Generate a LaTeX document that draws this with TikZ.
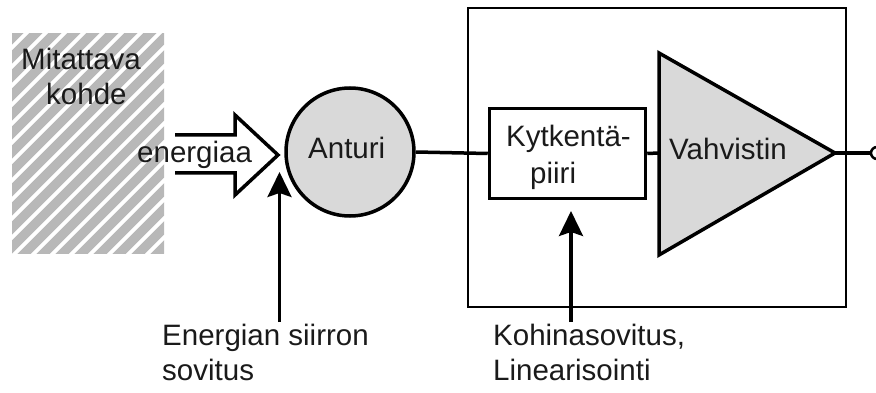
\documentclass[tikz,border=0pt]{standalone}
\usepackage{fontspec}
\setmainfont{Liberation Sans}
\usetikzlibrary{arrows.meta}
\definecolor{fillgray}{HTML}{D9D9D9}
\definecolor{hatchgray}{HTML}{B8B8B8}
\definecolor{txt}{HTML}{1A1A1A}
\tikzset{
  lbl/.style={anchor=base west, inner sep=0pt, text=txt, font=\fontsize{29.5}{35}\selectfont},
  thickline/.style={line width=3.5pt, draw=black},
  uparrow/.style={line width=3.2pt, -{Stealth[length=25pt, width=24pt, inset=4pt]}},
}
\begin{document}
\begin{tikzpicture}[x=1pt,y=-1pt]
\useasboundingbox (0,0) rectangle (876,393);
% hatched object
\begin{scope}
  \clip (12,34) rectangle (164,253);
  \foreach \k in {-260,-241,...,200} {
    \draw[hatchgray, line width=9.5pt] (12+\k,260) -- (12+\k+240,20);
  }
\end{scope}
\node[lbl] (m1) at (21,70) {Mitattava};
\node[lbl] (m2) at (46,105) {kohde};
% hollow arrow
\draw[line width=3.5pt, line join=miter] (175,135) -- (235,135) -- (235,115) -- (278,155) -- (235,195) -- (235,173) -- (175,173);
\node[lbl] (en) at (137,163) {energiaa};
% big enclosing rectangle
\node[draw, line width=2.2pt, minimum width=378pt, minimum height=299pt, inner sep=0pt] (encl) at (657,157.5) {};
% sensor
\node[circle, draw, thickline, fill=fillgray, minimum size=128pt, inner sep=0pt] (anturi) at (350,152) {};
\node[lbl] (antt) at (308,159) {Anturi};
% coupling box
\node[draw, thickline, minimum width=156pt, minimum height=90pt, inner sep=0pt] (kbox) at (567.5,153.5) {};
\node[lbl] (k1) at (506,147) {Kytkentä-};
\node[lbl] (k2) at (530,183) {piiri};
% amplifier
\coordinate (ampin) at (659,153);
\coordinate (ampout) at (835,153);
\draw[thickline, fill=fillgray, line join=miter] (659,53) -- (ampout) -- (659,255) -- cycle;
\node[lbl] (v) at (669,160) {Vahvistin};
% output terminal
\node[circle, draw, line width=2.5pt, fill=white, minimum size=12pt, inner sep=0pt] (out) at (877,153) {};
% connectors
\draw[thickline] (anturi.east) -- (kbox.west);
\draw[thickline] (kbox.east) -- (ampin);
\draw[thickline] (ampout) -- (out.west);
% control arrows
\coordinate (a1s) at (279.5,322);
\coordinate (a1e) at (279.5,172);
\draw[uparrow] (a1s) -- (a1e);
\coordinate (a2s) at (571,322);
\coordinate (a2e) at (571,211);
\draw[uparrow] (a2s) -- (a2e);
\node[lbl] (e1) at (162,345) {Energian siirron};
\node[lbl] (e2) at (162,380) {sovitus};
\node[lbl] (l1) at (493,345) {Kohinasovitus,};
\node[lbl] (l2) at (493,380) {Linearisointi};
\end{tikzpicture}
\end{document}
